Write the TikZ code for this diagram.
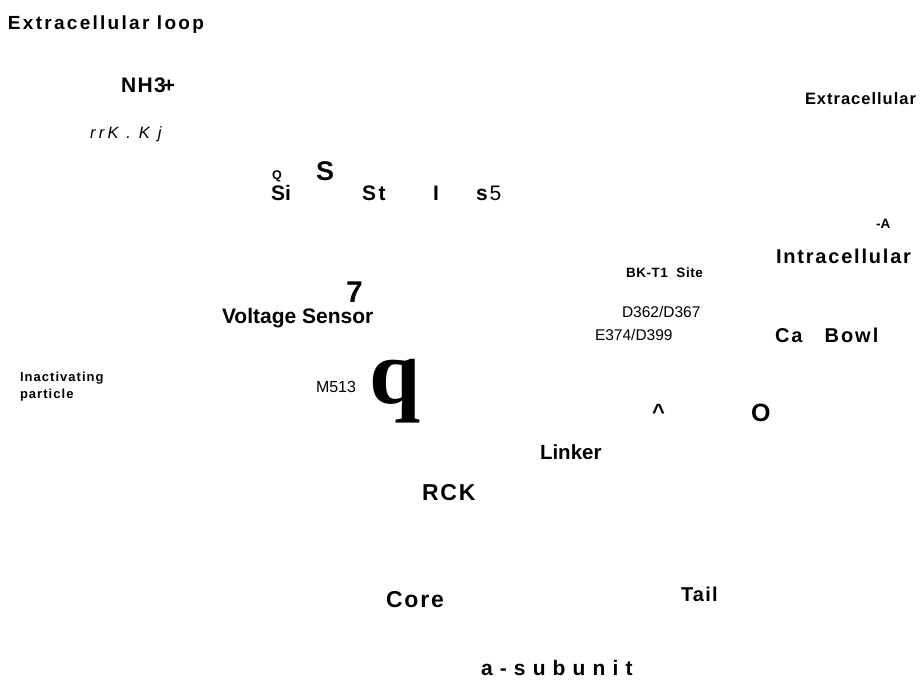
\documentclass[tikz,border=0pt]{standalone}
\usepackage{fontspec}
\setmainfont{Liberation Sans}
\newfontfamily\serifq{Liberation Serif}
\tikzset{
  lbl/.style={anchor=base west, inner sep=0pt, outer sep=0pt, font=\bfseries},
  plain/.style={anchor=base west, inner sep=0pt, outer sep=0pt},
}
\newcommand{\fsz}[1]{\fontsize{#1}{#1}\selectfont}
\newcommand{\spaced}[1]{\addfontfeature{LetterSpace=#1}}
\begin{document}
\begin{tikzpicture}[x=1pt,y=-1pt]
\useasboundingbox (0,0) rectangle (920,681);
\node[lbl] (exloop) at (8,29) {\fsz{19}\spaced{12}Extracellular loop};
\node[lbl] (nh3) at (121,92) {\fsz{21}\spaced{7}NH3\kern-3pt+};
\node[plain] (rrk) at (90,138) {\fsz{16.5}\itshape\spaced{20}rrK . K j};
\node[lbl] (q1) at (272,179) {\fsz{12.5}Q};
\node[lbl] (s1) at (316,180) {\fsz{27}S};
\node[lbl] (si) at (271,200) {\fsz{21}Si};
\node[lbl] (st) at (362,200) {\fsz{21}\spaced{12}St};
\node[lbl] (i1) at (433,200) {\fsz{21}I};
\node[lbl] (s5) at (476,200) {\fsz{21}s\kern2pt\mdseries 5};
\node[lbl] (excell) at (805,104) {\fsz{16.5}\spaced{6}Extracellular};
\node[lbl] (minusa) at (876,228) {\fsz{13.5}-A};
\node[lbl] (intra) at (776,263) {\fsz{20}\spaced{9}Intracellular};
\node[lbl] (bkt1) at (626,277) {\fsz{13.5}\spaced{4}BK-T1\ \ Site};
\node[lbl] (seven) at (346,302) {\fsz{30}7};
\node[lbl] (volt) at (222,323) {\fsz{21}Voltage Sensor};
\node[plain] (d362) at (622,317) {\fsz{15.5}D362/D367};
\node[plain] (e374) at (595,340) {\fsz{15.5}E374/D399};
\node[lbl] (cabowl) at (775,342) {\fsz{20}\spaced{10}Ca\hspace{22pt}Bowl};
\node[lbl] (inact) at (20,381) {\fsz{13}\spaced{8}Inactivating};
\node[lbl] (partic) at (20,398) {\fsz{13}\spaced{8}particle};
\node[plain] (m513) at (316,392) {\fsz{16}M513};
\node[plain] (bigq) at (369,403) {\serifq\bfseries\fsz{92}q};
\node[lbl] (caret) at (652,419) {\fsz{22}\textasciicircum};
\node[lbl] (o1) at (751,421) {\fsz{25}O};
\node[lbl] (linker) at (540,459) {\fsz{20.5}Linker};
\node[lbl] (rck) at (422,500) {\fsz{23}\spaced{8}RCK};
\node[lbl] (core) at (386,607) {\fsz{23}\spaced{8}Core};
\node[lbl] (tail) at (681,601) {\fsz{20}\spaced{6}Tail};
\node[lbl] (asub) at (481,675) {\fsz{21}\spaced{34}a-subunit};
\end{tikzpicture}
\end{document}
